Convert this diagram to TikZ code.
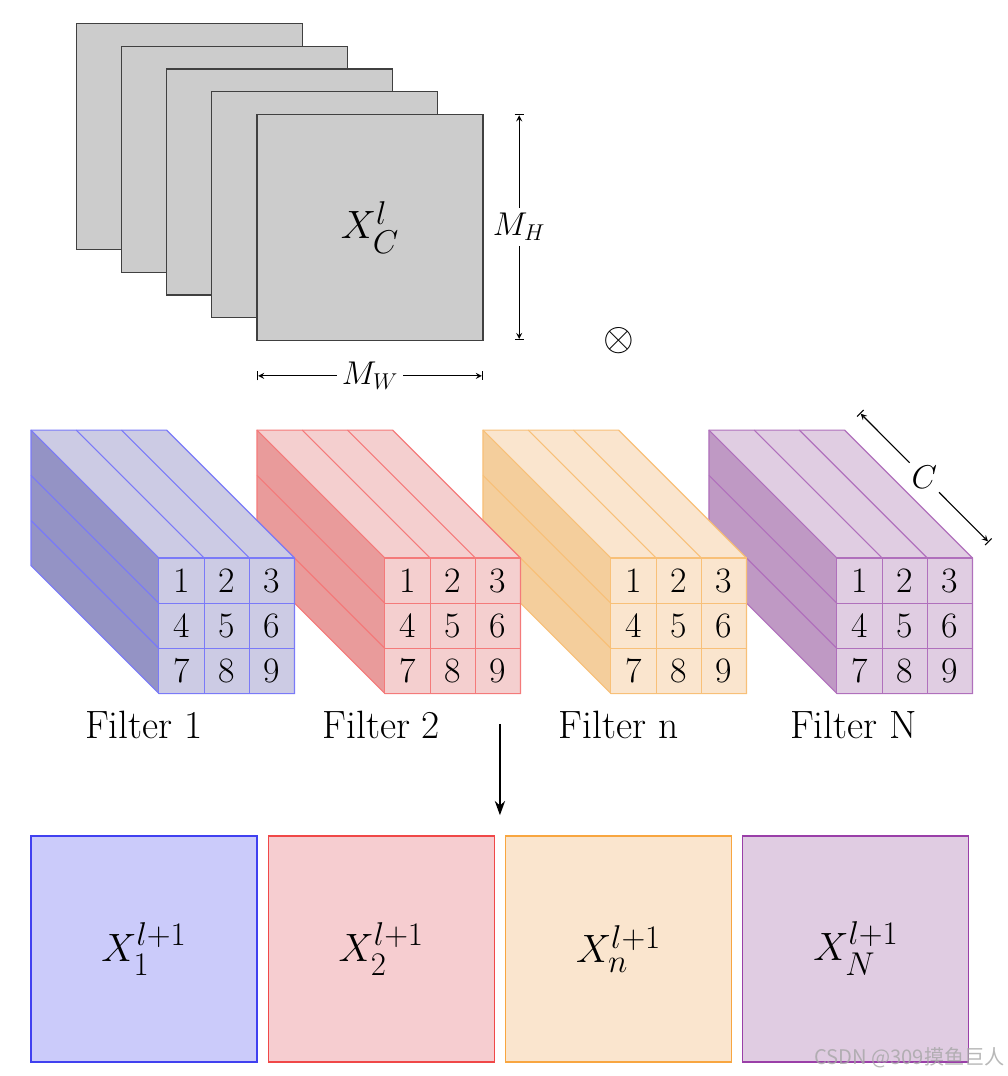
\documentclass[tikz,border=0pt]{standalone}
\usepackage{amsmath}
\usepackage{fontspec}
\usetikzlibrary{calc, arrows.meta}
\newfontfamily\markfont{Noto Sans CJK SC}

% Colours
\definecolor{blueedge}{HTML}{4040F0}
\definecolor{redglow}{HTML}{F04848}
\definecolor{orangeedge}{HTML}{F8A640}
\definecolor{purpleedge}{HTML}{9A3FA8}
\definecolor{bluefill}{HTML}{CBCBFA}
\definecolor{redfill}{HTML}{F6CDD0}
\definecolor{orangefill}{HTML}{FAE5CE}
\definecolor{purplefill}{HTML}{E0CCE2}
\definecolor{bluecube}{HTML}{CCCBE4}
\definecolor{bluecubeside}{HTML}{9493C5}
\definecolor{bluecubeline}{HTML}{7A7AF8}
\definecolor{redcube}{HTML}{F4CFCF}
\definecolor{redcubeside}{HTML}{E99B9B}
\definecolor{redcubeline}{HTML}{F47A7A}
\definecolor{orangecube}{HTML}{FAE5CE}
\definecolor{orangecubeside}{HTML}{F4CE9C}
\definecolor{orangecubeline}{HTML}{F8C078}
\definecolor{purplecube}{HTML}{E0CDE2}
\definecolor{purplecubeside}{HTML}{BF99C4}
\definecolor{purplecubeline}{HTML}{B070BC}

% Block of 3x3x3 filter cells: name, x of back corner, front, side, line colour
\newcommand{\filterblock}[5]{
  \coordinate (#1back) at (#2,10.98);
  \coordinate (#1front) at ($(#1back)+(2.83,-2.83)$);
  % Side and top faces
  \fill[#4] (#1back) -- ++(0,3) -- ++(2.83,-2.83) -- ++(0,-3) -- cycle;
  \fill[#3] (#1back) ++(0,3) -- ++(3,0) -- ++(2.83,-2.83) -- ++(-3,0) -- cycle;
  \fill[#3] (#1front) rectangle ++(3,3);
  % Edges
  \draw[cellline, #5] (#1back) -- ++(0,3) -- ++(3,0) -- ++(2.83,-2.83) -- ++(0,-3) -- ++(-3,0) -- cycle;
  \draw[cellline, #5] (#1front) rectangle ++(3,3);
  \draw[cellline, #5] (#1front) ++(1,0) -- ++(0,3);
  \draw[cellline, #5] (#1front) ++(2,0) -- ++(0,3);
  \draw[cellline, #5] (#1front) ++(0,1) -- ++(3,0);
  \draw[cellline, #5] (#1front) ++(0,2) -- ++(3,0);
  \draw[cellline, #5] (#1back) ++(0,1) -- ++(2.83,-2.83);
  \draw[cellline, #5] (#1back) ++(0,2) -- ++(2.83,-2.83);
  \draw[cellline, #5] (#1back) ++(0,3) -- ++(2.83,-2.83);
  \draw[cellline, #5] (#1back) ++(1,3) -- ++(2.83,-2.83);
  \draw[cellline, #5] (#1back) ++(2,3) -- ++(2.83,-2.83);
  % Cell numbers
  \foreach \n/\cx/\cy in {1/0.5/2.5, 2/1.5/2.5, 3/2.5/2.5, 4/0.5/1.5, 5/1.5/1.5, 6/2.5/1.5, 7/0.5/0.5, 8/1.5/0.5, 9/2.5/0.5}
    \node[celltext] (#1cell\n) at ($(#1front)+(\cx,\cy)$) {\n};
}

\begin{document}
\begin{tikzpicture}[>=stealth,
    sheet/.style={draw=black!75, fill=black!20, line width=0.7pt, minimum size=5cm, outer sep=0pt, anchor=south west, font=\Huge},
    result/.style={line width=0.7pt, minimum size=5cm, outer sep=0pt, anchor=south west, font=\Huge},
    cellline/.style={line width=0.7pt},
    celltext/.style={font=\fontsize{22.5}{27}\selectfont, inner sep=0pt},
    filtertext/.style={font=\Huge, inner sep=0pt},
    dimtext/.style={font=\huge, fill=white, inner sep=3pt},
    dimline/.style={line width=0.7pt}]
  \useasboundingbox (-0.686,-0.31) rectangle (21.615,23.496);

  % Input feature maps
  \node[sheet] (mapA) at (1,17.97) {};
  \node[sheet] (mapB) at (2,17.47) {};
  \node[sheet] (mapC) at (3,16.97) {};
  \node[sheet] (mapD) at (4,16.47) {};
  \node[sheet] (mapE) at (5,15.97) {$X_C^l$};

  % Size of one map
  \coordinate (hTop) at (10.8,20.97);
  \coordinate (hBot) at (10.8,15.97);
  \coordinate (wLeft) at (5,15.18);
  \coordinate (wRight) at (10,15.18);
  \node[dimtext] (mH) at (10.8,18.47) {$M_H$};
  \node[dimtext] (mW) at (7.5,15.18) {$M_W$};
  \draw[dimline, |<-] (hTop) -- (mH);
  \draw[dimline, ->|] (mH) -- (hBot);
  \draw[dimline, |<-] (wLeft) -- (mW);
  \draw[dimline, ->|] (mW) -- (wRight);

  % Convolution sign
  \node[font=\Huge, inner sep=0pt] (conv) at (13,15.97) {$\otimes$};

  % Filter blocks
  \filterblock{fN}{15}{purplecube}{purplecubeside}{purplecubeline}
  \filterblock{fn}{10}{orangecube}{orangecubeside}{orangecubeline}
  \filterblock{fb}{5}{redcube}{redcubeside}{redcubeline}
  \filterblock{fa}{0}{bluecube}{bluecubeside}{bluecubeline}

  % Depth of a block
  \coordinate (cStart) at (18.34,14.36);
  \coordinate (cEnd) at (21.19,11.5);
  \node[dimtext, inner sep=2pt] (depth) at (19.765,12.93) {$C$};
  \draw[dimline, |<-] (cStart) -- (depth);
  \draw[dimline, ->|] (depth) -- (cEnd);

  % Filter names
  \node[filtertext] (nameA) at (2.5,7.45) {Filter 1};
  \node[filtertext] (nameB) at (7.75,7.45) {Filter 2};
  \node[filtertext] (nameC) at (13,7.45) {Filter n};
  \node[filtertext] (nameD) at (18.2,7.45) {Filter N};

  % Down arrow
  \coordinate (arrowTop) at (10.375,7.48);
  \coordinate (arrowEnd) at (10.375,5.46);
  \draw[-{Stealth[length=9pt, width=6.5pt]}, line width=0.9pt] (arrowTop) -- (arrowEnd);

  % Output maps
  \node[result, draw=blueedge, fill=bluefill] (outA) at (0,0) {$X_1^{l+1}$};
  \node[result, draw=redglow, fill=redfill] (outB) at (5.25,0) {$X_2^{l+1}$};
  \node[result, draw=orangeedge, fill=orangefill] (outC) at (10.5,0) {$X_n^{l+1}$};
  \node[result, draw=purpleedge, fill=purplefill] (outD) at (15.75,0) {$X_N^{l+1}$};

  % Watermark
  \node[anchor=east, inner sep=0pt, text=black!35, opacity=0.8, font=\markfont\fontsize{12.7}{15}\selectfont] (mark) at (21.55,0.09) {CSDN @309摸鱼巨人};
\end{tikzpicture}
\end{document}
